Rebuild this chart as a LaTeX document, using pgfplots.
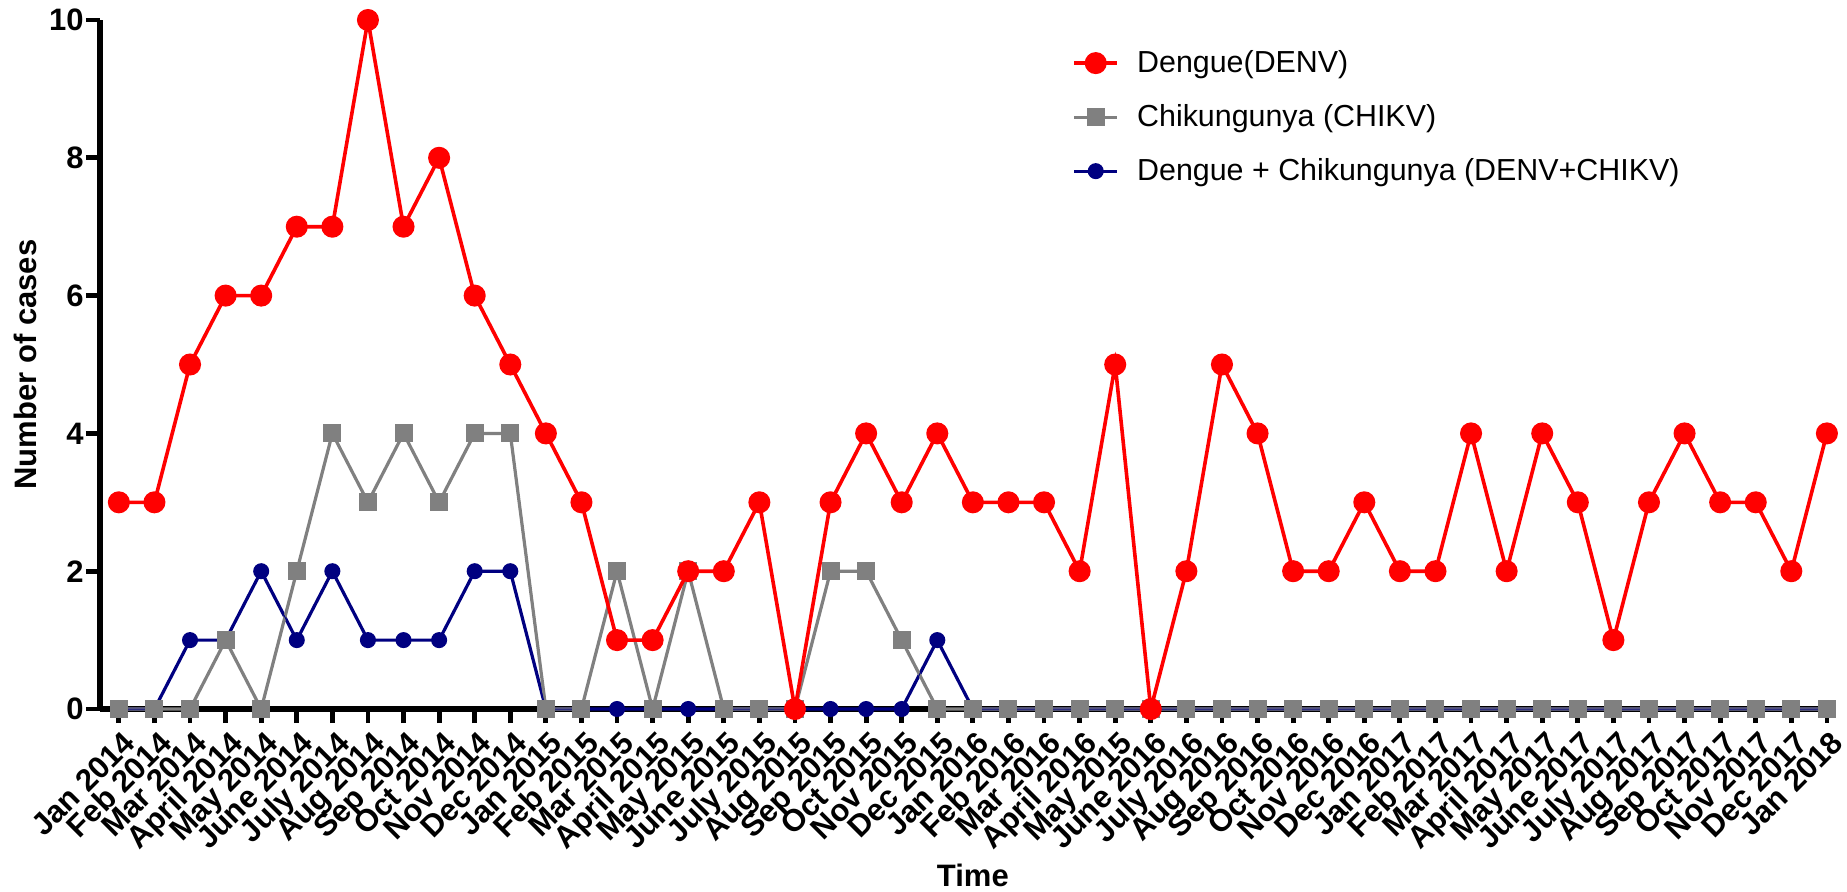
\documentclass[border=0pt]{standalone}
\usepackage{pgfplots}
\usepackage{pgfplotstable}
\pgfplotsset{compat=1.18}
\usepackage{fontspec}
\setmainfont{Liberation Sans}

\definecolor{denv}{RGB}{255,0,0}
\definecolor{chikv}{RGB}{128,128,128}
\definecolor{coinf}{RGB}{0,0,128}

% Monthly case counts, Jan 2014 -- Jan 2018
\pgfplotstableread{
idx denv chikv coinf
0  3  0 0
1  3  0 0
2  5  0 1
3  6  1 1
4  6  0 2
5  7  2 1
6  7  4 2
7  10 3 1
8  7  4 1
9  8  3 1
10 6  4 2
11 5  4 2
12 4  0 0
13 3  0 0
14 1  2 0
15 1  0 0
16 2  2 0
17 2  0 0
18 3  0 0
19 0  0 0
20 3  2 0
21 4  2 0
22 3  1 0
23 4  0 1
24 3  0 0
25 3  0 0
26 3  0 0
27 2  0 0
28 5  0 0
29 0  0 0
30 2  0 0
31 5  0 0
32 4  0 0
33 2  0 0
34 2  0 0
35 3  0 0
36 2  0 0
37 2  0 0
38 4  0 0
39 2  0 0
40 4  0 0
41 3  0 0
42 1  0 0
43 3  0 0
44 4  0 0
45 3  0 0
46 3  0 0
47 2  0 0
48 4  0 0
}\casestable

\begin{document}
\begin{tikzpicture}
\begin{axis}[
  scale only axis,
  width=867pt, height=344.5pt,
  xmin=-0.53, xmax=48.2,
  ymin=0, ymax=10,
  clip=false,
  axis x line=bottom,
  axis y line=left,
  axis line style={-, line width=2.8pt, black},
  tick align=outside,
  major tick length=7pt,
  tick style={line width=2.4pt, black},
  xtick={0,...,48},
  xticklabels={Jan 2014, Feb 2014, Mar 2014, April 2014, May 2014, June 2014,
    July 2014, Aug 2014, Sep 2014, Oct 2014, Nov 2014, Dec 2014,
    Jan 2015, Feb 2015, Mar 2015, April 2015, May 2015, June 2015,
    July 2015, Aug 2015, Sep 2015, Oct 2015, Nov 2015, Dec 2015,
    Jan 2016, Feb 2016, Mar 2016, April 2016, May 2015, June 2016,
    July 2016, Aug 2016, Sep 2016, Oct 2016, Nov 2016, Dec 2016,
    Jan 2017, Feb 2017, Mar 2017, April 2017, May 2017, June 2017,
    July 2017, Aug 2017, Sep 2017, Oct 2017, Nov 2017, Dec 2017,
    Jan 2018},
  ytick={0,2,...,10},
  /pgf/number format/assume math mode=true,
  xticklabel style={font=\fontsize{15.5}{18}\selectfont\bfseries,
    yshift=-3pt, xshift=1.5pt, rotate=45, anchor=north east, inner sep=0pt},
  yticklabel style={font=\fontsize{15.5}{18}\selectfont\bfseries, inner sep=1pt},
  xlabel={Time},
  ylabel={Number of cases},
  label style={font=\fontsize{15.5}{18}\selectfont\bfseries},
  xlabel style={at={(axis cs:24.0,-2.41)}, anchor=center},
  ylabel style={at={(axis cs:-2.62,5)}, anchor=center},
  legend style={draw=none, fill=none, at={(0.5605,0.962)}, anchor=north west,
    font=\fontsize{15.2}{18}\selectfont, row sep=10.5pt, column sep=7pt,
    inner sep=0pt},
  legend cell align=left,
  reverse legend,
  legend image code/.code={%
    \draw[mark repeat=2, mark phase=2] plot coordinates {(0cm,0cm) (0.38cm,0cm) (0.76cm,0cm)};},
]
% co-infections first, then chikungunya, then dengue on top
\addplot[coinf, line width=1.6pt, mark=*, mark size=3.2pt, mark options={solid, fill=coinf, draw=coinf}]
  table[x=idx, y=coinf] {\casestable};
\addlegendentry{Dengue + Chikungunya (DENV+CHIKV)}
\addplot[chikv, line width=1.6pt, mark=square*, mark size=3.7pt, mark options={solid, fill=chikv, draw=chikv}]
  table[x=idx, y=chikv] {\casestable};
\addlegendentry{Chikungunya (CHIKV)}
% hairline of the co-infection series showing through the grey line
\addplot[coinf, line width=0.5pt, no markers, forget plot]
  table[x=idx, y=coinf] {\casestable};
\addplot[denv, line width=1.8pt, mark=*, mark size=4.6pt, mark options={solid, fill=denv, draw=denv}]
  table[x=idx, y=denv] {\casestable};
\addlegendentry{Dengue(DENV)}
\end{axis}
\pgfresetboundingbox
\path (-50pt,-91pt) rectangle (873.5pt,354.5pt);
\end{tikzpicture}
\end{document}
